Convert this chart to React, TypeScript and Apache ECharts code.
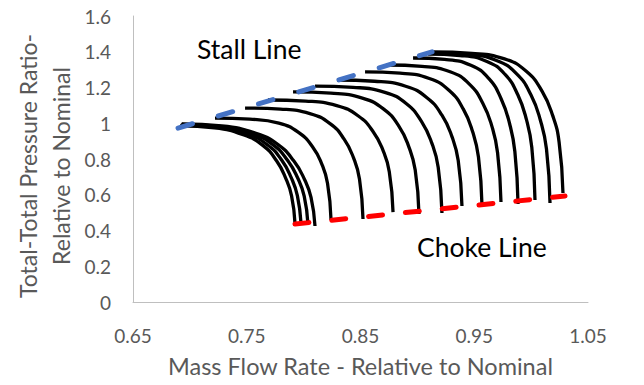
import { useEffect, useRef } from "react";
import * as echarts from "echarts";

// Speed lines: [mass flow, pressure ratio]
const speedLines: number[][][] = [
  [[0.6913, 0.985], [0.7216, 0.974], [0.7469, 0.936], [0.7641, 0.876], [0.7762, 0.79], [0.7843, 0.692], [0.7894, 0.594], [0.7924, 0.442]],
  [[0.692, 0.99], [0.7237, 0.979], [0.7501, 0.941], [0.7681, 0.88], [0.7808, 0.793], [0.7892, 0.694], [0.7945, 0.595], [0.7977, 0.442]],
  [[0.6925, 0.993], [0.7259, 0.982], [0.7537, 0.943], [0.7726, 0.882], [0.786, 0.792], [0.7949, 0.692], [0.8005, 0.592], [0.8038, 0.436]],
  [[0.693, 0.996], [0.7281, 0.985], [0.7574, 0.945], [0.7772, 0.882], [0.7913, 0.79], [0.8006, 0.688], [0.8065, 0.585], [0.81, 0.425]],
  [[0.7221, 1.029], [0.7527, 1.023], [0.7782, 1.001], [0.7955, 0.949], [0.8078, 0.869], [0.8159, 0.773], [0.821, 0.664], [0.8241, 0.459]],
  [[0.7485, 1.085], [0.7796, 1.079], [0.8055, 1.054], [0.8232, 0.998], [0.8356, 0.911], [0.8439, 0.806], [0.8491, 0.688], [0.8522, 0.464]],
  [[0.7687, 1.13], [0.8017, 1.124], [0.8291, 1.099], [0.8478, 1.042], [0.861, 0.954], [0.8698, 0.848], [0.8753, 0.729], [0.8786, 0.503]],
  [[0.7907, 1.175], [0.8239, 1.168], [0.8516, 1.141], [0.8704, 1.079], [0.8837, 0.984], [0.8925, 0.868], [0.8981, 0.738], [0.9014, 0.492]],
  [[0.81, 1.208], [0.8435, 1.201], [0.8714, 1.173], [0.8904, 1.109], [0.9037, 1.009], [0.9127, 0.889], [0.9183, 0.754], [0.9216, 0.498]],
  [[0.8293, 1.242], [0.8623, 1.235], [0.8897, 1.207], [0.9084, 1.143], [0.9216, 1.045], [0.9304, 0.925], [0.9359, 0.791], [0.9392, 0.537]],
  [[0.854, 1.287], [0.8848, 1.28], [0.9105, 1.25], [0.928, 1.183], [0.9404, 1.079], [0.9486, 0.952], [0.9537, 0.811], [0.9568, 0.543]],
  [[0.8742, 1.326], [0.904, 1.318], [0.9288, 1.288], [0.9457, 1.219], [0.9576, 1.111], [0.9656, 0.981], [0.9705, 0.835], [0.9735, 0.559]],
  [[0.8962, 1.365], [0.9239, 1.357], [0.947, 1.324], [0.9627, 1.251], [0.9737, 1.136], [0.9811, 0.997], [0.9857, 0.842], [0.9885, 0.548]],
  [[0.9093, 1.387], [0.9375, 1.379], [0.9611, 1.346], [0.9771, 1.273], [0.9883, 1.159], [0.9959, 1.02], [1.0006, 0.865], [1.0034, 0.571]],
  [[0.912, 1.393], [0.9434, 1.385], [0.9695, 1.351], [0.9873, 1.276], [0.9999, 1.158], [1.0082, 1.015], [1.0135, 0.856], [1.0166, 0.554]],
  [[0.9137, 1.399], [0.948, 1.391], [0.9766, 1.36], [0.996, 1.289], [1.0097, 1.178], [1.0189, 1.044], [1.0246, 0.894], [1.028, 0.61]],
];

const stallLine: number[][] = [[0.6896, 0.973], [0.9129, 1.399]];
const chokeLine: number[][] = [[0.7924, 0.436], [1.0298, 0.593]];

const xMin = 0.65;
const xMax = 1.05;
const xStep = 0.1;
const yMin = 0;
const yMax = 1.6;
const yStep = 0.2;

const xTitle = "Mass Flow Rate - Relative to Nominal";
const yTitle = "Total-Total Pressure Ratio-\nRelative to Nominal";
const stallLabel = "Stall Line";
const chokeLabel = "Choke Line";

const FONT = "Lato";
const GREY = "#595959";

export default function App() {
  const ref = useRef<HTMLDivElement>(null);
  useEffect(() => {
    if (!ref.current) return;
    const chart = echarts.init(ref.current, null, { renderer: "svg" });
    const series: any[] = speedLines.map((pts, i) => ({
      name: "speed" + (i + 1),
      type: "line",
      data: pts,
      smooth: 0.5,
      showSymbol: false,
      lineStyle: { color: "#000000", width: 3.3 },
      z: 2,
    }));
    series.push({
      name: "Stall",
      type: "line",
      data: stallLine,
      showSymbol: false,
      lineStyle: { color: "#4472C4", width: 5, type: [15, 27], cap: "round" },
      z: 3,
    });
    series.push({
      name: "Choke",
      type: "line",
      data: chokeLine,
      showSymbol: false,
      lineStyle: { color: "#FF0000", width: 5, type: [14, 23], cap: "round" },
      z: 3,
    });
    chart.setOption({
      animation: false,
      backgroundColor: "#ffffff",
      grid: { left: 133, right: 56, top: 16, bottom: 83, containLabel: false },
      xAxis: {
        type: "value",
        min: xMin,
        max: xMax,
        interval: xStep,
        axisLine: { show: true, lineStyle: { color: "#BFBFBF", width: 1 } },
        axisTick: { show: false },
        splitLine: { show: false },
        axisLabel: {
          color: GREY,
          fontFamily: FONT,
          fontSize: 19,
          margin: 24,
          formatter: (v: number) => v.toFixed(2),
        },
      },
      yAxis: {
        type: "value",
        min: yMin,
        max: yMax,
        interval: yStep,
        axisLine: { show: true, lineStyle: { color: "#BFBFBF", width: 1 } },
        axisTick: { show: false },
        splitLine: { show: false },
        axisLabel: {
          color: GREY,
          fontFamily: FONT,
          fontSize: 19,
          margin: 22,
          formatter: (v: number) => String(parseFloat(v.toFixed(1))),
        },
      },
      graphic: [
        {
          type: "text",
          left: 168,
          top: 354,
          style: {
            text: xTitle,
            fill: GREY,
            fontFamily: FONT,
            fontSize: 23.5,
          },
        },
        {
          type: "text",
          x: 44,
          y: 166,
          rotation: Math.PI / 2,
          style: {
            text: yTitle,
            fill: GREY,
            fontFamily: FONT,
            fontSize: 23,
            align: "center",
            verticalAlign: "middle",
            lineHeight: 33,
          },
        },
        {
          type: "text",
          left: 197,
          top: 35,
          style: {
            text: stallLabel,
            fill: "#000000",
            fontFamily: FONT,
            fontSize: 26.5,
          },
        },
        {
          type: "text",
          left: 417,
          top: 233,
          style: {
            text: chokeLabel,
            fill: "#000000",
            fontFamily: FONT,
            fontSize: 26.5,
          },
        },
      ],
      series,
    });
    return () => chart.dispose();
  }, []);
  return <div ref={ref} style={{ width: 644, height: 385, margin: -8 }} />;
}
